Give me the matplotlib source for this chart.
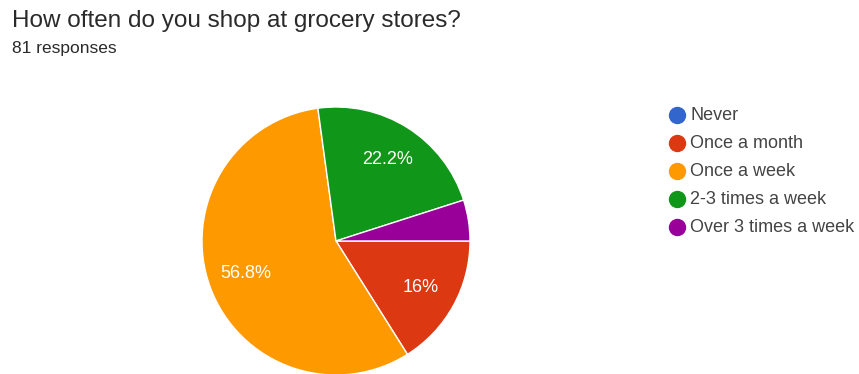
import matplotlib.pyplot as plt

plt.rcParams['font.family'] = ['Liberation Sans', 'DejaVu Sans']

answers = ["Never", "Once a month", "Once a week", "2-3 times a week", "Over 3 times a week"]
counts = [0, 13, 46, 18, 4]
colors = ["#3366cc", "#dc3912", "#ff9900", "#109618", "#990099"]

total = sum(counts)
W, H = 859, 374


def pct_label(p):
    # small slices get no label, whole numbers drop the ".0"
    if p < 5:
        return ""
    txt = "%.1f" % p
    if txt.endswith(".0"):
        txt = txt[:-2]
    return txt + "%"


fig = plt.figure(figsize=(W / 100, H / 100), dpi=100)
fig.patch.set_facecolor("white")

# pie area: 268 px square, centred at (336, 241)
ax = fig.add_axes([202 / W, (H - 375) / H, 268 / W, 268 / H])
wedges, texts, autotexts = ax.pie(
    counts,
    colors=colors,
    startangle=0,
    counterclock=False,
    autopct=pct_label,
    pctdistance=0.72,
    wedgeprops=dict(edgecolor="white", linewidth=1),
    textprops=dict(color="white", fontsize=13),
)
ax.set_xlim(-1, 1)
ax.set_ylim(-1, 1)
ax.set_aspect("equal")

fig.text(12 / W, 1 - 27 / H, "How often do you shop at grocery stores?",
         fontsize=17.5, color="#2a2a2a", va="baseline", ha="left")
fig.text(12 / W, 1 - 49 / H, "81 responses",
         fontsize=12.5, color="#2a2a2a", va="center", ha="left")

# legend drawn in pixel coordinates on an overlay axes
lax = fig.add_axes([0, 0, 1, 1])
lax.set_xlim(0, W)
lax.set_ylim(H, 0)
lax.axis("off")
for i, (name, c) in enumerate(zip(answers, colors)):
    y = 115 + 28 * i
    lax.plot(677, y, marker="o", markersize=11.5, color=c, linestyle="")
    lax.text(690, y, name, fontsize=13, color="#444444", va="center", ha="left")

fig.savefig("out.png", dpi=100)
